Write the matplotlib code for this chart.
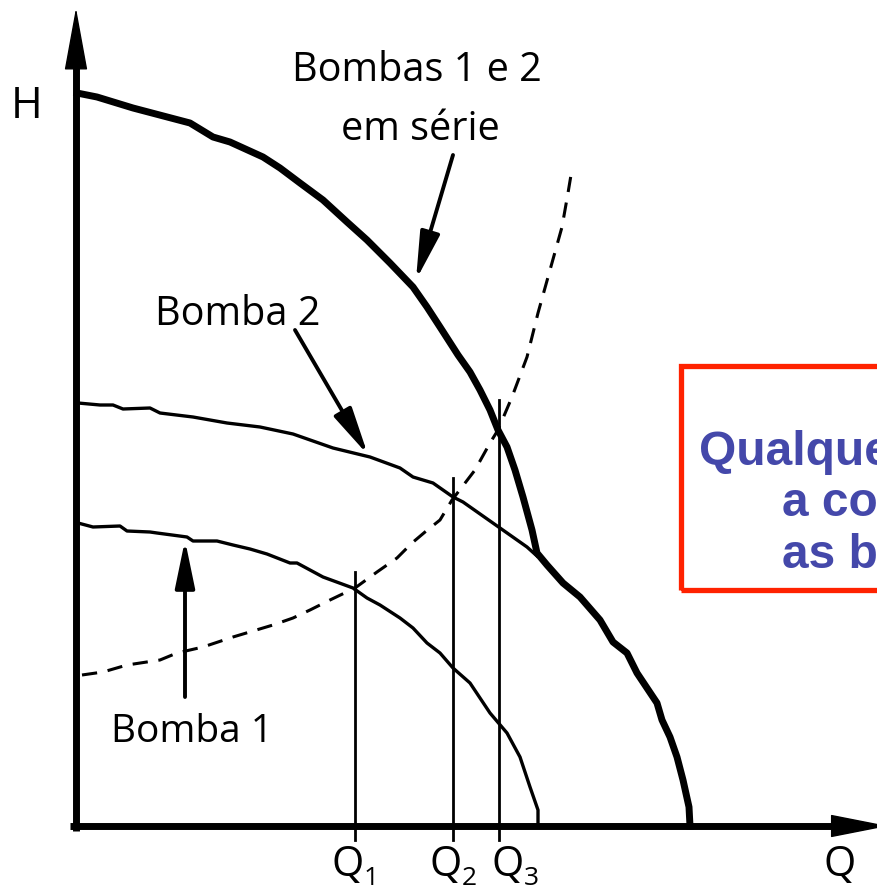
import matplotlib.pyplot as plt
from matplotlib.patches import Rectangle

# Curvas características (Q, H) em unidades arbitrárias do diagrama
serie_q = [1, 21, 57, 114, 137, 154, 187, 204, 224, 247, 271, 291, 314, 337, 351,
           364, 382, 394, 404, 414, 422, 431, 439, 447, 456, 461, 471, 487, 504,
           524, 537, 551, 561, 581, 586, 594, 601, 607, 613, 614]
serie_h = [733, 729, 718, 703, 689, 684, 669, 658, 643, 626, 604, 586, 563, 539, 519,
           499, 471, 454, 436, 416, 396, 379, 356, 329, 296, 273, 261, 243, 229,
           206, 184, 173, 153, 123, 106, 89, 69, 46, 19, 0]

bomba2_q = [2, 24, 37, 47, 74, 84, 117, 151, 184, 217, 257, 294, 324, 337, 357,
            377, 387, 424, 451, 461]
bomba2_h = [423, 421, 421, 417, 418, 413, 409, 403, 399, 392, 378, 369, 358, 349, 343,
            329, 324, 298, 279, 270]

bomba1_q = [2, 17, 44, 51, 74, 81, 111, 117, 141, 157, 174, 191, 214, 221, 247,
            277, 291, 304, 324, 337, 351, 364, 377, 394, 414, 431, 444, 454, 462, 462]
bomba1_h = [303, 299, 300, 295, 294, 293, 289, 285, 285, 281, 277, 272, 263, 263, 249,
            238, 228, 221, 208, 198, 183, 173, 158, 143, 113, 93, 69, 39, 16, 0]

# Curva do sistema (tracejada)
sistema_q = [6, 27, 51, 84, 101, 127, 157, 197, 217, 234, 254, 279, 301, 321, 336,
             349, 364, 376, 386, 399, 414, 422, 436, 451, 462, 474, 486, 492, 495]
sistema_h = [151, 154, 161, 166, 173, 179, 189, 201, 208, 216, 226, 238, 254, 268, 283,
             294, 306, 326, 339, 356, 383, 396, 429, 469, 513, 556, 599, 633, 651]

# Pontos de operação
vazoes = [279, 377, 423]
alturas = [254, 348, 426]
vazao_labels = ["1", "2", "3"]

fig = plt.figure(figsize=(8.77, 8.90), dpi=100)
ax = fig.add_axes([0, 0, 1, 1])
ax.set_xlim(-76, 801)
ax.set_ylim(-64, 826)
ax.axis("off")

fonte = "Open Sans"

# Eixos com setas
ax.plot([0, 0], [-5, 770], color="black", lw=5, solid_capstyle="butt")
ax.plot([-6, 770], [0, 0], color="black", lw=5, solid_capstyle="butt")
ax.annotate("", xy=(0, 818), xytext=(0, 750),
            arrowprops=dict(arrowstyle="-|>,head_length=4.1,head_width=0.75",
                            mutation_scale=10, lw=1, color="black",
                            shrinkA=0, shrinkB=0))
ax.annotate("", xy=(812, 0), xytext=(745, 0),
            arrowprops=dict(arrowstyle="-|>,head_length=3.8,head_width=0.75",
                            mutation_scale=10, lw=1, color="black",
                            shrinkA=0, shrinkB=0), annotation_clip=False)

# Curvas
ax.plot(bomba1_q, bomba1_h, color="black", lw=2.4, solid_joinstyle="round")
ax.plot(bomba2_q, bomba2_h, color="black", lw=2.4, solid_joinstyle="round")
ax.plot(serie_q, serie_h, color="black", lw=5, solid_joinstyle="round")
ax.plot(sistema_q, sistema_h, color="black", lw=2.2, linestyle=(0, (5, 3.5)))

# Linhas verticais das vazões de operação, com rótulo Q e índice
for q, h, lab in zip(vazoes, alturas, vazao_labels):
    ax.plot([q, q], [-14, h], color="black", lw=2)

ax.text(255, -50, "Q", fontsize=30, family=fonte, va="baseline")
ax.text(288, -59, "1", fontsize=19, family=fonte, va="baseline")
ax.text(353, -50, "Q", fontsize=30, family=fonte, va="baseline")
ax.text(386, -59, "2", fontsize=19, family=fonte, va="baseline")
ax.text(415, -50, "Q", fontsize=30, family=fonte, va="baseline")
ax.text(448, -59, "3", fontsize=19, family=fonte, va="baseline")
ax.text(747, -50, "Q", fontsize=30, family=fonte, va="baseline")
ax.text(-49, 708, "H", fontsize=31, family=fonte, ha="center", va="baseline")

# Rótulos e setas indicativas
ax.text(341, 745, "Bombas 1 e 2", fontsize=28.5, family=fonte, ha="center", va="baseline")
ax.text(344, 686, "em série", fontsize=28.5, family=fonte, ha="center", va="baseline")
ax.text(162, 501, "Bomba 2", fontsize=28.5, family=fonte, ha="center", va="baseline")
ax.text(116, 84, "Bomba 1", fontsize=28, family=fonte, ha="center", va="baseline")

seta = dict(arrowstyle="-|>,head_length=2.9,head_width=0.6", mutation_scale=10,
            lw=2.8, color="black", shrinkA=0, shrinkB=0)
ax.annotate("", xy=(340, 546), xytext=(377, 671), arrowprops=seta)
ax.annotate("", xy=(292, 371), xytext=(219, 496), arrowprops=seta)
ax.annotate("", xy=(109, 286), xytext=(109, 129), arrowprops=seta)

# Caixa de destaque
ax.add_patch(Rectangle((604.5, 236.5), 400, 224, fill=False, edgecolor="#ff2200",
                       lw=3.8, clip_on=False))
azul = "#4448aa"
ax.text(623, 361, "Qualque", fontsize=34.5, family="Liberation Sans",
        weight="bold", color=azul, va="baseline")
ax.text(706, 310, "a co", fontsize=34.5, family="Liberation Sans",
        weight="bold", color=azul, va="baseline")
ax.text(706, 258, "as b", fontsize=34.5, family="Liberation Sans",
        weight="bold", color=azul, va="baseline")

plt.savefig("out.png", dpi=100)
